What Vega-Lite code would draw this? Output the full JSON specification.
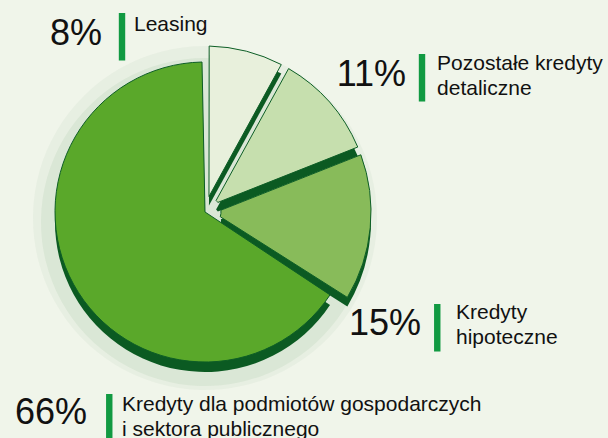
{
  "$schema": "https://vega.github.io/schema/vega-lite/v6.json",
  "width": 410,
  "height": 424,
  "autosize": {"type": "none"},
  "padding": {"left": 0, "top": 0, "right": 198, "bottom": 14},
  "background": "#f0f5ea",
  "view": {"stroke": null},
  "data": {
    "values": [
      {"idx": 1, "cat": "Leasing", "value": 8, "pct": "8%", "label": "Leasing"},
      {"idx": 2, "cat": "Pozostałe kredyty detaliczne", "value": 11, "pct": "11%", "label": "Pozostałe kredyty\ndetaliczne"},
      {"idx": 3, "cat": "Kredyty hipoteczne", "value": 15, "pct": "15%", "label": "Kredyty\nhipoteczne"},
      {"idx": 4, "cat": "Kredyty dla podmiotów gospodarczych i sektora publicznego", "value": 66, "pct": "66%", "label": "Kredyty dla podmiotów gospodarczych\ni sektora publicznego"}
    ]
  },
  "encoding": {
    "theta": {"field": "value", "type": "quantitative", "stack": true},
    "order": {"field": "idx", "type": "quantitative"}
  },
  "layer": [
    {
      "mark": {"type": "arc", "radius": 172, "color": "#a9c6a9", "opacity": 0.12, "yOffset": 6},
      "encoding": {}
    },
    {
      "mark": {"type": "arc", "radius": 164, "color": "#8fb58f", "opacity": 0.14, "yOffset": 10},
      "encoding": {}
    },
    {
      "mark": {"type": "arc", "radius": 150, "padAngle": 0.04, "color": "#0b5a22", "yOffset": 10},
      "encoding": {"opacity": {"condition": {"test": "datum.idx === 4", "value": 1}, "value": 0}}
    },
    {
      "mark": {"type": "arc", "radius": 166, "radius2": 16, "padAngle": 0.05, "color": "#0b5a22", "yOffset": 9},
      "encoding": {"opacity": {"condition": {"test": "datum.idx !== 4", "value": 1}, "value": 0}}
    },
    {
      "mark": {"type": "arc", "radius": 150, "padAngle": 0.04, "stroke": "#0d5e26", "strokeWidth": 1},
      "encoding": {
        "color": {
          "field": "cat",
          "type": "nominal",
          "legend": null,
          "scale": {
            "domain": ["Leasing", "Pozostałe kredyty detaliczne", "Kredyty hipoteczne", "Kredyty dla podmiotów gospodarczych i sektora publicznego"],
            "range": ["#e8f0dc", "#c6dfae", "#88bb5a", "#5aa82a"]
          }
        },
        "opacity": {"condition": {"test": "datum.idx === 4", "value": 1}, "value": 0}
      }
    },
    {
      "mark": {"type": "arc", "radius": 166, "radius2": 16, "padAngle": 0.05, "stroke": "#0d5e26", "strokeWidth": 1},
      "encoding": {
        "color": {"field": "cat", "type": "nominal", "legend": null},
        "opacity": {"condition": {"test": "datum.idx !== 4", "value": 1}, "value": 0}
      }
    },
    {
      "mark": {"type": "text", "radius": 180, "align": "right", "baseline": "alphabetic", "font": "Liberation Sans", "fontSize": 36, "color": "#111111", "dx": -147.8, "dy": 7.3},
      "encoding": {"text": {"condition": {"test": "datum.idx === 1", "field": "pct"}, "value": ""}}
    },
    {
      "mark": {"type": "text", "radius": 180, "align": "center", "baseline": "alphabetic", "font": "Liberation Sans", "fontWeight": "bold", "fontSize": 50, "color": "#119a42", "dx": -127.8, "dy": 11.8},
      "encoding": {"text": {"condition": {"test": "datum.idx === 1", "value": "|"}, "value": ""}}
    },
    {
      "mark": {"type": "text", "radius": 180, "align": "left", "baseline": "alphabetic", "font": "Liberation Sans", "fontSize": 21, "lineHeight": 25, "lineBreak": "\n", "color": "#111111", "dx": -115.8, "dy": -6.2},
      "encoding": {"text": {"condition": {"test": "datum.idx === 1", "field": "label"}, "value": ""}}
    },
    {
      "mark": {"type": "text", "radius": 180, "align": "right", "baseline": "alphabetic", "font": "Liberation Sans", "fontSize": 36, "color": "#111111", "dx": 66, "dy": -7},
      "encoding": {"text": {"condition": {"test": "datum.idx === 2", "field": "pct"}, "value": ""}}
    },
    {
      "mark": {"type": "text", "radius": 180, "align": "center", "baseline": "alphabetic", "font": "Liberation Sans", "fontWeight": "bold", "fontSize": 50, "color": "#119a42", "dx": 82, "dy": -2.5},
      "encoding": {"text": {"condition": {"test": "datum.idx === 2", "value": "|"}, "value": ""}}
    },
    {
      "mark": {"type": "text", "radius": 180, "align": "left", "baseline": "alphabetic", "font": "Liberation Sans", "fontSize": 21, "lineHeight": 25, "lineBreak": "\n", "color": "#111111", "dx": 97, "dy": -23},
      "encoding": {"text": {"condition": {"test": "datum.idx === 2", "field": "label"}, "value": ""}}
    },
    {
      "mark": {"type": "text", "radius": 180, "align": "right", "baseline": "alphabetic", "font": "Liberation Sans", "fontSize": 36, "color": "#111111", "dx": 36.8, "dy": 106.1},
      "encoding": {"text": {"condition": {"test": "datum.idx === 3", "field": "pct"}, "value": ""}}
    },
    {
      "mark": {"type": "text", "radius": 180, "align": "center", "baseline": "alphabetic", "font": "Liberation Sans", "fontWeight": "bold", "fontSize": 50, "color": "#119a42", "dx": 53, "dy": 110.6},
      "encoding": {"text": {"condition": {"test": "datum.idx === 3", "value": "|"}, "value": ""}}
    },
    {
      "mark": {"type": "text", "radius": 180, "align": "left", "baseline": "alphabetic", "font": "Liberation Sans", "fontSize": 21, "lineHeight": 25, "lineBreak": "\n", "color": "#111111", "dx": 71.8, "dy": 90.1},
      "encoding": {"text": {"condition": {"test": "datum.idx === 3", "field": "label"}, "value": ""}}
    },
    {
      "mark": {"type": "text", "radius": 180, "align": "right", "baseline": "alphabetic", "font": "Liberation Sans", "fontSize": 36, "color": "#111111", "dx": 39.7, "dy": 125.3},
      "encoding": {"text": {"condition": {"test": "datum.idx === 4", "field": "pct"}, "value": ""}}
    },
    {
      "mark": {"type": "text", "radius": 180, "align": "center", "baseline": "alphabetic", "font": "Liberation Sans", "fontWeight": "bold", "fontSize": 50, "color": "#119a42", "dx": 62, "dy": 131.3},
      "encoding": {"text": {"condition": {"test": "datum.idx === 4", "value": "|"}, "value": ""}}
    },
    {
      "mark": {"type": "text", "radius": 180, "align": "left", "baseline": "alphabetic", "font": "Liberation Sans", "fontSize": 21, "lineHeight": 25, "lineBreak": "\n", "color": "#111111", "dx": 74.7, "dy": 111.8},
      "encoding": {"text": {"condition": {"test": "datum.idx === 4", "field": "label"}, "value": ""}}
    }
  ]
}
